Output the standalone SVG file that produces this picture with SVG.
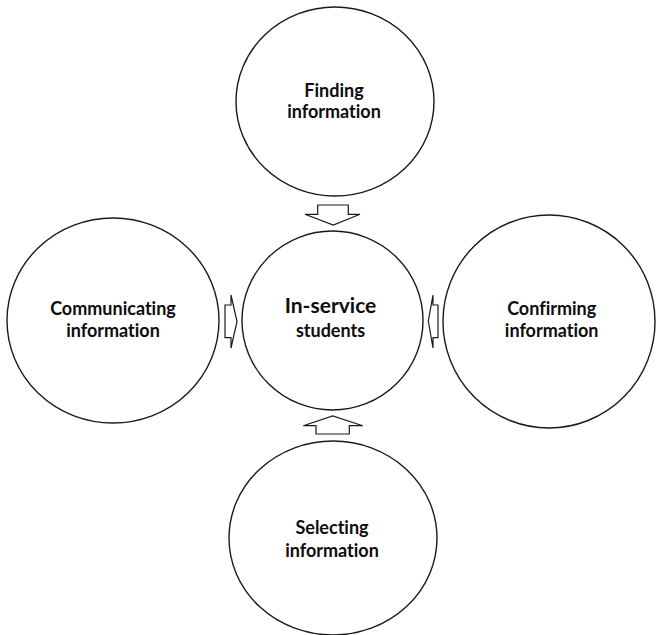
<svg xmlns="http://www.w3.org/2000/svg" width="656" height="635" viewBox="0 0 656 635">
  <style>
    .node { fill: #ffffff; stroke: #1a1a1a; stroke-width: 1.4; }
    .arrow { fill: #ffffff; stroke: #1a1a1a; stroke-width: 1.2; stroke-linejoin: miter; }
    .label { font-family: Lato, "Open Sans", "Liberation Sans", sans-serif; font-weight: 700; font-size: 18px; fill: #0d0d0d; text-anchor: middle; font-variant-ligatures: none; font-feature-settings: "liga" 0, "dlig" 0; }
    .big { font-size: 21px; }
  </style>
  <rect x="0" y="0" width="656" height="635" fill="#ffffff"/>

  <g id="finding">
    <ellipse class="node" cx="335" cy="101.5" rx="99" ry="94.5"/>
    <text class="label" x="334" y="96.7">Finding</text>
    <text class="label" x="334" y="118.3">information</text>
  </g>

  <g id="communicating">
    <ellipse class="node" cx="113" cy="320.5" rx="106" ry="102.5"/>
    <text class="label" x="113" y="315">Communicating</text>
    <text class="label" x="113" y="336.7">information</text>
  </g>

  <g id="students">
    <ellipse class="node" cx="332.5" cy="320.5" rx="90.5" ry="89.5"/>
    <text class="label big" x="330.5" y="313.3">In-service</text>
    <text class="label" x="330.5" y="336.7">students</text>
  </g>

  <g id="confirming">
    <ellipse class="node" cx="549" cy="321.5" rx="106" ry="106.5"/>
    <text class="label" x="551.7" y="315">Confirming</text>
    <text class="label" x="551.7" y="336.7">information</text>
  </g>

  <g id="selecting">
    <ellipse class="node" cx="333" cy="538" rx="104" ry="97"/>
    <text class="label" x="332" y="534.3">Selecting</text>
    <text class="label" x="332" y="556.7">information</text>
  </g>

  <g id="connectors">
    <path class="arrow" d="M317.7,205 H348.3 V214.3 H360 L333.3,225 L305,214.3 H317.7 Z"/>
    <path class="arrow" d="M316,434 H349.3 V425.7 H362.7 L332.7,416 L303.3,425.7 H316 Z"/>
    <path class="arrow" d="M225,305 H231 V295 L237,321.5 L231,348 V337.7 H225 Z"/>
    <path class="arrow" d="M438,305 H433 V295 L428.3,321 L433,348 V337.7 H438 Z"/>
  </g>
</svg>
